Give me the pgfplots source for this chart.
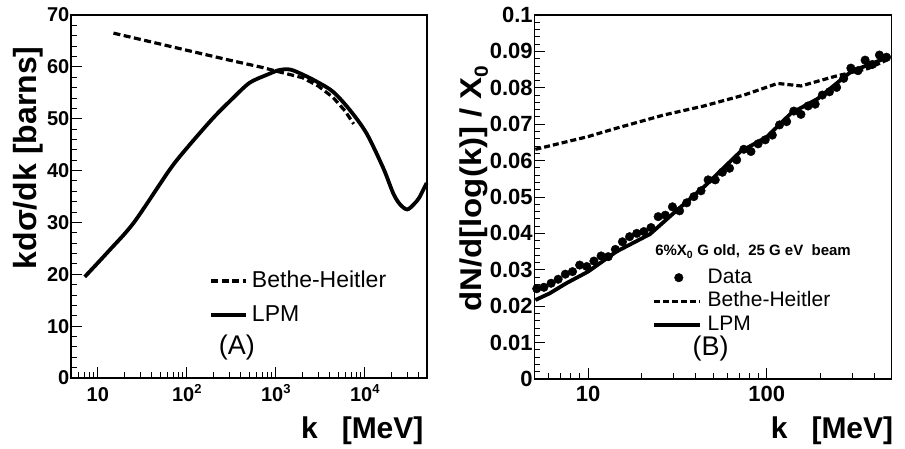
\documentclass[border=0pt]{standalone}
\usepackage{fontspec}
\setmainfont{Liberation Sans}
\usepackage{graphicx}
\usepackage{pgfplots}
\pgfplotsset{compat=1.18}
\newcommand{\sups}[1]{\raisebox{0.42em}{\fontsize{13}{13}\selectfont #1}}
\pgfplotsset{rootstyle/.style={
  scale only axis,
  axis line style={line width=1.2pt},
  every tick/.style={black, line width=0.9pt},
  major tick length=11pt, minor tick length=6pt,
  tick align=inside, xtick pos=left, ytick pos=left,
  /pgf/number format/assume math mode=true,
  legend cell align=left,
  clip=false,
},
legA/.style={legend image code/.code={\draw[##1] (0pt,0pt) -- (35pt,0pt);}},
legB/.style={legend image code/.code={\draw[##1] (0pt,0pt) -- (46pt,0pt);}},
legDot/.style={legend image code/.code={\draw[##1, mark repeat=2, mark phase=2] plot coordinates {(0pt,0pt) (25pt,0pt) (46pt,0pt)};}},
}
\begin{document}
\begin{tikzpicture}
\path[use as bounding box] (0pt,0pt) rectangle (905pt,449pt);
% ---------------- Panel A ----------------
\begin{axis}[rootstyle, legA,
  at={(71pt,71pt)}, anchor=south west, width=356pt, height=363pt,
  xmode=log, xmin=5, xmax=50000, ymin=0, ymax=70,
  xtick={10,100,1000,10000},
  xticklabels={10,10\sups{2},10\sups{3},10\sups{4}},
  minor xtick={6,7,8,9,20,30,40,50,60,70,80,90,200,300,400,500,600,700,800,900,2000,3000,4000,5000,6000,7000,8000,9000,20000,30000,40000},
  ytick={0,10,20,30,40,50,60,70}, minor y tick num=4,
  yticklabels={0,10,20,30,40,50,60,70},
  ticklabel style={font=\bfseries\fontsize{20}{20}\selectfont},
  xticklabel style={anchor=base, yshift=-23.5pt},
  yticklabel style={inner xsep=1.5pt},
  ylabel={kdσ/dk [barns]},
  ylabel style={at={([xshift=-35pt]axis description cs:0,0.923)}, anchor=base east, font=\bfseries\fontsize{32}{32}\selectfont},
  xlabel={k\hspace{24pt}[MeV]},
  xlabel style={at={([yshift=-61pt]axis description cs:1,0)}, anchor=base east, font=\bfseries\fontsize{30}{30}\selectfont},
  legend style={draw=none, fill=none, at={(axis description cs:0.3876,0.298)}, anchor=north west,
    font=\fontsize{23}{23}\selectfont, row sep=12pt, column sep=4pt, inner sep=0pt,
    nodes={inner sep=0pt, text height=17pt, text depth=5pt}},
]
\addplot[black, line width=3.2pt, dash pattern=on 7pt off 3.5pt] coordinates {
(15,66.5) (40,64.8) (100,63.2) (300,61.3) (700,59.9) (1000,59.2) (2000,57.9) (3000,56.3) (4400,54.1) (6000,51.5) (7500,49.0)
};
\addlegendentry{Bethe-Heitler}
\addplot[black, line width=3.8pt, smooth] coordinates {
(7.13,19.5) (13.3,24.5) (25.5,30.0) (63.2,40.0) (97.5,44.1) (194.5,50.0) (327,53.9) (505,56.9) (778,58.4) (1099,59.4) (1426,59.5) (1849,58.8) (2851,57.2) (4395,55.2) (6776,51.7) (10440,47.2) (16110,40.5) (20890,35.6) (24830,33.5) (30000,32.5) (36000,33.6) (41000,34.8) (49550,37.6)
};
\addlegendentry{LPM}
\node[font=\fontsize{27}{27}\selectfont] at (axis description cs:0.466,0.083) {(A)};
\end{axis}
% ---------------- Panel B ----------------
\begin{axis}[rootstyle, legB,
  at={(534.3pt,70pt)}, anchor=south west, width=357.4pt, height=364pt,
  xmode=log, xmin=5, xmax=500, ymin=0, ymax=0.1,
  xtick={10,100}, xticklabels={10,100},
  minor xtick={6,7,8,9,20,30,40,50,60,70,80,90,200,300,400},
  ytick={0,0.01,0.02,0.03,0.04,0.05,0.06,0.07,0.08,0.09,0.1}, minor y tick num=4,
  yticklabels={0,0.01,0.02,0.03,0.04,0.05,0.06,0.07,0.08,0.09,0.1},
  ticklabel style={font=\bfseries\fontsize{22}{22}\selectfont},
  xticklabel style={anchor=base, yshift=-23pt},
  yticklabel style={inner xsep=1.5pt},
  ylabel={\scalebox{1.1}[1]{dN/d[log(k)] / X\raisebox{-0.22em}{\fontsize{19}{19}\selectfont 0}}},
  ylabel style={at={([xshift=-53pt]axis description cs:0,0.871)}, anchor=base east, font=\bfseries\fontsize{30}{30}\selectfont},
  xlabel={k\hspace{24pt}[MeV]},
  xlabel style={at={([xshift=5pt,yshift=-60pt]axis description cs:1,0)}, anchor=base east, font=\bfseries\fontsize{30}{30}\selectfont},
  legend style={draw=none, fill=none, at={(axis description cs:0.3285,0.305)}, anchor=north west,
    font=\fontsize{21}{21}\selectfont, row sep=4.5pt, column sep=6pt, inner sep=0pt,
    nodes={inner sep=0pt, text height=15pt, text depth=4pt}},
]
\addplot[black, only marks, mark=*, mark size=4.3pt, legDot] coordinates {
(5.16,0.0248) (5.66,0.0252) (6.21,0.0263) (6.80,0.0274) (7.46,0.0288) (8.18,0.0295) (8.97,0.0313) (9.83,0.0309) (10.78,0.0324) (11.82,0.0338)
(12.96,0.0336) (14.21,0.0356) (15.57,0.0377) (17.07,0.0391) (18.72,0.0400) (20.52,0.0405) (22.50,0.0416) (24.67,0.0446) (27.04,0.0450) (29.65,0.0473)
(32.50,0.0462) (35.63,0.0484) (39.06,0.0501) (42.83,0.0517) (46.95,0.0547) (51.47,0.0547) (56.43,0.0568) (61.87,0.0579) (67.83,0.0602) (74.36,0.0631)
(81.52,0.0625) (89.37,0.0646) (97.98,0.0657) (107.4,0.0670) (117.8,0.0698) (129.1,0.0707) (141.6,0.0736) (155.2,0.0727) (170.1,0.0750) (186.5,0.0755)
(204.5,0.0780) (224.2,0.0789) (245.8,0.0801) (269.4,0.0826) (295.4,0.0854) (323.8,0.0847) (355.0,0.0876) (389.2,0.0864) (426.7,0.0890) (467.8,0.0884)
};
\addlegendentry{Data}
\addplot[black, line width=3.2pt, dash pattern=on 6pt off 3pt] coordinates {
(5.07,0.0631) (10,0.0666) (14.4,0.0689) (26.4,0.0725) (44.4,0.0750) (74.5,0.0780) (114.8,0.0812) (155.4,0.0805) (239,0.0831) (369,0.0853) (478,0.0878)
};
\addlegendentry{Bethe-Heitler}
\addplot[black, line width=3.8pt] coordinates {
(5.07,0.0217) (6.08,0.0235) (7.55,0.0263) (10,0.0295) (14.4,0.0350) (22.2,0.0398) (30,0.0455) (45,0.0530) (71.3,0.0625) (100,0.0665) (136.6,0.0730) (192.9,0.0770) (297,0.0845) (478,0.0884)
};
\addlegendentry{LPM}
\node[anchor=base west, font=\bfseries\fontsize{15}{15}\selectfont] at (axis description cs:0.3285,0.338) {6\%X\textsubscript{0} G old,\ \ 25 G eV\ \ beam};
\node[font=\fontsize{27}{27}\selectfont] at (axis description cs:0.493,0.085) {(B)};
\end{axis}
\end{tikzpicture}
\end{document}
